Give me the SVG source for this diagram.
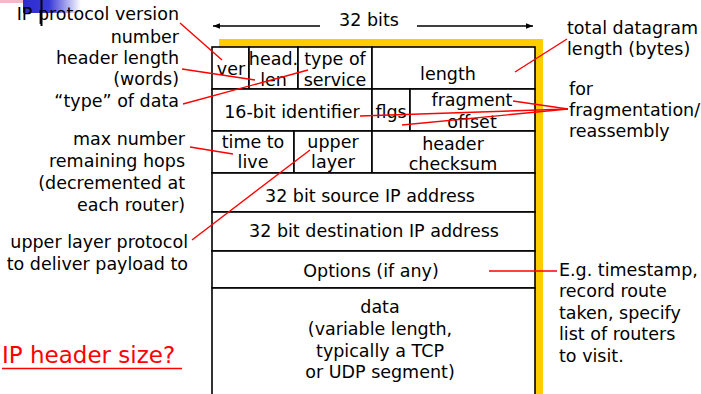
<svg xmlns="http://www.w3.org/2000/svg" width="701" height="394" viewBox="0 0 701 394">
<defs>
<linearGradient id="blueg" x1="0" y1="0" x2="1" y2="0">
<stop offset="0" stop-color="#2b2bd0"/>
<stop offset="0.45" stop-color="#3a3ad8"/>
<stop offset="1" stop-color="#ffffff"/>
</linearGradient>
<marker id="arr" viewBox="0 0 10 10" refX="10" refY="5" markerWidth="7" markerHeight="7" orient="auto-start-reverse" markerUnits="userSpaceOnUse">
<path d="M0,1 L10,5 L0,9 Z" fill="#000"/>
</marker>
<style>
text{font-family:"DejaVu Sans","Liberation Sans",sans-serif;font-size:17.5px;fill:#000}
.c{text-anchor:middle}
.r{text-anchor:end}
.cell{fill:#fff;stroke:#000;stroke-width:1.6}
.red{stroke:#ff0000;stroke-width:1.4;fill:none}
</style>
</defs>
<rect width="701" height="394" fill="#fff"/>
<!-- decoration -->
<rect x="0" y="0" width="23" height="3" fill="#f6b8c8"/>
<rect x="23" y="0" width="58" height="13" fill="url(#blueg)"/>
<rect x="40.5" y="0" width="2" height="26" fill="#000"/>

<!-- 32 bits -->
<g id="bits">
<line x1="213" y1="26" x2="320" y2="26" stroke="#000" stroke-width="1.3" marker-start="url(#arr)"/>
<line x1="417" y1="26" x2="533" y2="26" stroke="#000" stroke-width="1.3" marker-end="url(#arr)"/>
<text class="c" x="369" y="26">32 bits</text>
</g>

<!-- yellow shadow -->
<path d="M219 39 H543 V394 H535 V47 H219 Z" fill="#ffcc00"/>

<g id="ver"><rect class="cell" x="212" y="47" width="37" height="42"/><text class="c" x="231" y="75">ver</text></g>
<g id="head"><rect class="cell" x="249" y="47" width="49" height="42"/><text class="c" x="273.5" y="65">head.</text><text class="c" x="273.5" y="86">len</text></g>
<g id="tos"><rect class="cell" x="298" y="47" width="74" height="42"/><text class="c" x="335" y="65">type of</text><text class="c" x="335" y="86">service</text></g>
<g id="length"><rect class="cell" x="372" y="47" width="163" height="42"/><text class="c" x="448" y="80">length</text></g>

<g id="ident"><rect class="cell" x="212" y="89" width="160" height="42"/><text class="c" x="292" y="118">16-bit identifier</text></g>
<g id="flgs"><rect class="cell" x="372" y="89" width="38" height="42"/><text class="c" x="391" y="118">flgs</text></g>
<g id="frag"><rect class="cell" x="410" y="89" width="125" height="42"/><text class="c" x="472" y="106">fragment</text><text class="c" x="472" y="128">offset</text></g>

<g id="ttl"><rect class="cell" x="212" y="131" width="82" height="42"/><text class="c" x="253" y="148">time to</text><text class="c" x="253" y="168">live</text></g>
<g id="upper"><rect class="cell" x="294" y="131" width="78" height="42"/><text class="c" x="333" y="148">upper</text><text class="c" x="333" y="168">layer</text></g>
<g id="checksum"><rect class="cell" x="372" y="131" width="163" height="42"/><text class="c" x="453" y="150">header</text><text class="c" x="453" y="170">checksum</text></g>

<g id="src"><rect class="cell" x="212" y="173" width="323" height="39"/><text class="c" x="370" y="202">32 bit source IP address</text></g>
<g id="dst"><rect class="cell" x="212" y="212" width="323" height="39"/><text class="c" x="374" y="237">32 bit destination IP address</text></g>
<g id="options"><rect class="cell" x="212" y="251" width="323" height="37"/><text class="c" x="371" y="277">Options (if any)</text></g>
<g id="data"><rect class="cell" x="212" y="288" width="323" height="110"/>
<text class="c" x="380" y="313">data</text>
<text class="c" x="380" y="335">(variable length,</text>
<text class="c" x="380" y="357">typically a TCP</text>
<text class="c" x="380" y="378">or UDP segment)</text></g>

<!-- left annotations -->
<g id="ann-ver"><text class="r" x="179" y="20">IP protocol version</text><text class="r" x="179" y="43">number</text></g>
<g id="ann-hlen"><text class="r" x="179" y="64">header length</text><text class="r" x="179" y="85">(words)</text></g>
<g id="ann-tos"><text class="r" x="179" y="107">“type” of data</text></g>
<g id="ann-ttl"><text class="r" x="185" y="145">max number</text><text class="r" x="185" y="167">remaining hops</text><text class="r" x="185" y="189">(decremented at</text><text class="r" x="185" y="211">each router)</text></g>
<g id="ann-upper"><text class="r" x="188" y="248">upper layer protocol</text><text class="r" x="188" y="270">to deliver payload to</text></g>
<g id="ann-size"><text x="2" y="363" style="font-size:23px;fill:#ff0000">IP header size?</text><line x1="2" y1="368.5" x2="182" y2="368.5" stroke="#ff0000" stroke-width="1.6"/></g>

<!-- right annotations -->
<g id="ann-len"><text x="567" y="34">total datagram</text><text x="567" y="55">length (bytes)</text></g>
<g id="ann-frag"><text x="569" y="95">for</text><text x="569" y="116">fragmentation/</text><text x="569" y="137">reassembly</text></g>
<g id="ann-opt"><text x="559" y="276">E.g. timestamp,</text><text x="559" y="297">record route</text><text x="559" y="319">taken, specify</text><text x="559" y="340">list of routers</text><text x="559" y="362">to visit.</text></g>

<g id="connectors">
<line class="red" x1="180" y1="23" x2="222" y2="60"/>
<line class="red" x1="182" y1="69" x2="255" y2="80"/>
<line class="red" x1="183" y1="104" x2="308" y2="70"/>
<line class="red" x1="567" y1="39" x2="515" y2="72"/>
<line class="red" x1="568" y1="109" x2="513" y2="101"/>
<line class="red" x1="568" y1="109" x2="360" y2="116"/>
<line class="red" x1="568" y1="109" x2="402" y2="125"/>
<line class="red" x1="190" y1="147" x2="233" y2="154"/>
<line class="red" x1="192" y1="240" x2="310" y2="150"/>
<line class="red" x1="489" y1="271" x2="557" y2="271"/>
</g>
</svg>
